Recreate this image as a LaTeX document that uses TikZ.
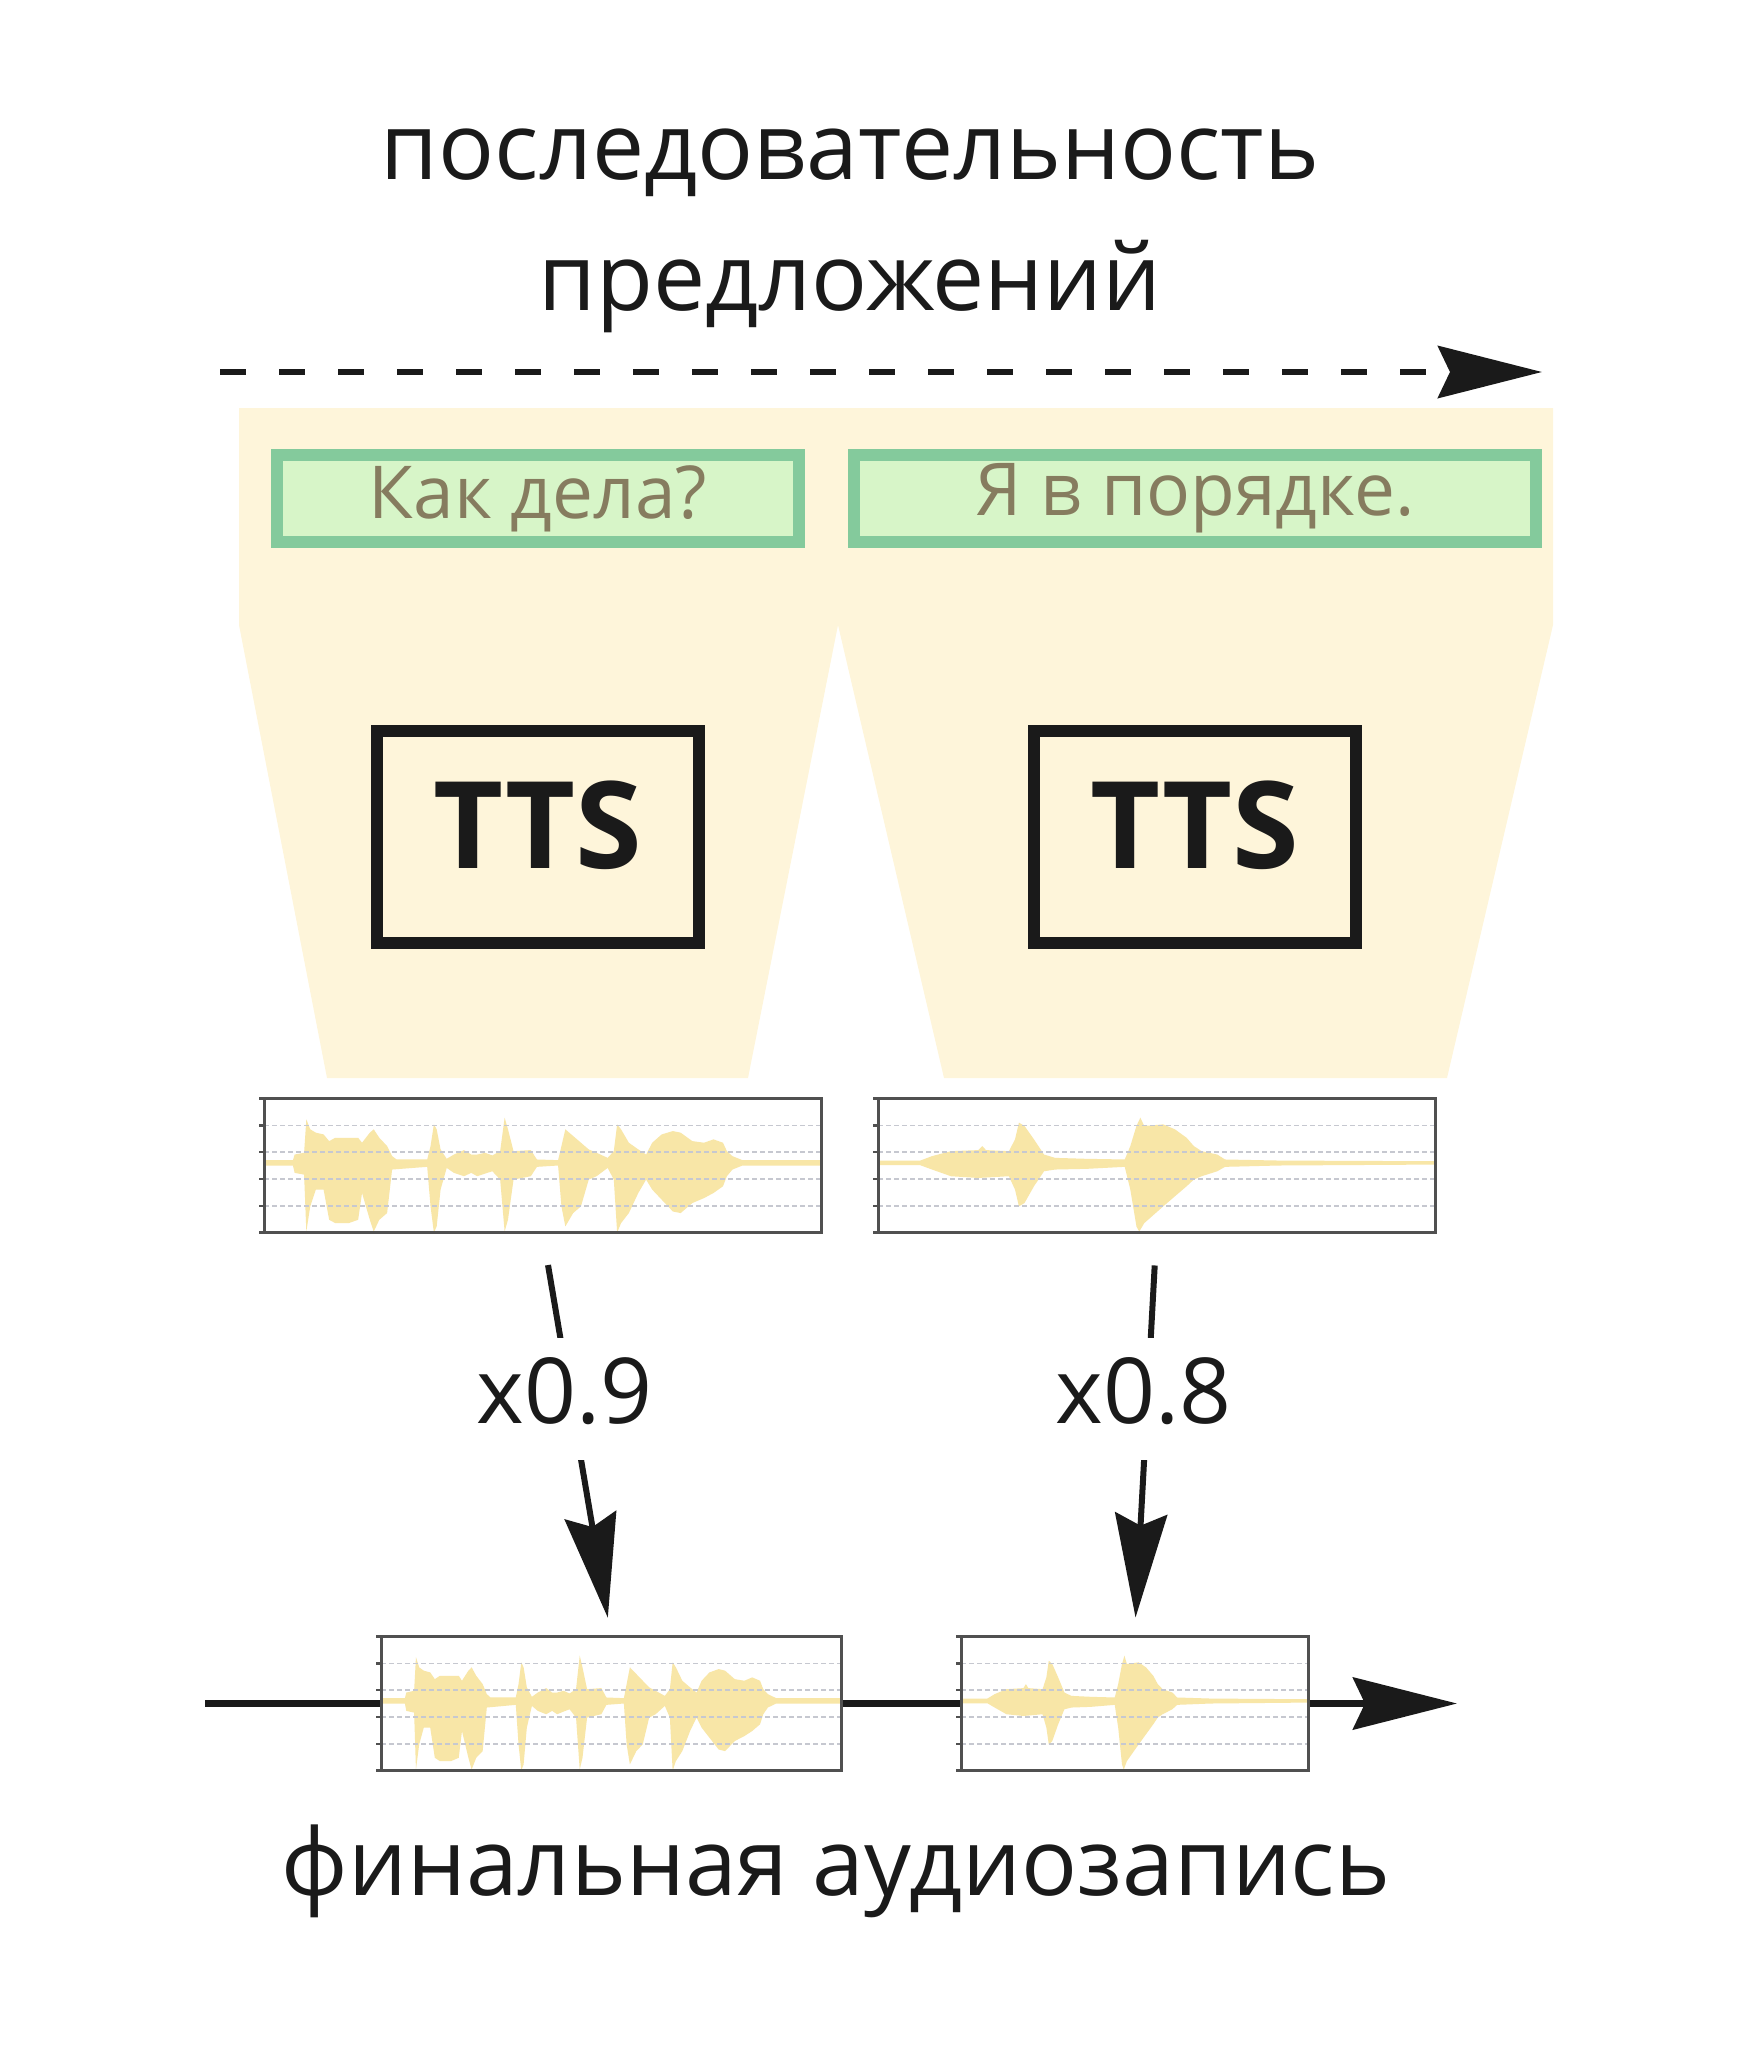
\documentclass[tikz,border=0pt]{standalone}
\usepackage{fontspec}
\setmainfont{Open Sans}
\usepackage{tikz}
\usetikzlibrary{arrows.meta,positioning}
\definecolor{ttscream}{HTML}{FEF5DA}
\definecolor{ttswave}{HTML}{F8E6A7}
\definecolor{sentfill}{HTML}{D7F5C8}
\definecolor{sentline}{HTML}{84CA9C}
\definecolor{senttext}{HTML}{867C5F}
\definecolor{gridgray}{HTML}{C6C8D0}
\definecolor{framegray}{HTML}{505050}
\definecolor{inkblack}{HTML}{1A1A1A}

\tikzset{
  sentence/.style={draw=sentline, fill=sentfill, line width=6pt, minimum height=43.5pt,
    inner sep=0pt, text=senttext, font=\fontsize{36.5}{40}\selectfont},
  ttsbox/.style={draw=inkblack, line width=6pt, minimum width=161pt, minimum height=106pt,
    inner sep=0pt, text depth=12pt, text=inkblack, font=\bfseries\fontsize{60.5}{70}\selectfont},
  wavebox/.style={fill=white, inner sep=0pt, outer sep=0pt, minimum height=67pt},
  bigtext/.style={text=inkblack, align=center, font=\fontsize{46.5}{65.5}\selectfont},
  scalelabel/.style={fill=white, inner sep=0pt, text height=42.5pt, text depth=18.5pt,
    text=inkblack, font=\fontsize{45.5}{50}\selectfont},
  bigarrow/.style={-{Stealth[length=52pt, width=26pt, inset=6pt]}},
  seqline/.style={bigarrow, inkblack, line width=3.4pt, dash pattern=on 13pt off 16.5pt},
  timeline/.style={inkblack, line width=3.5pt},
  speedline/.style={bigarrow, inkblack, line width=3pt, shorten <=16.5pt, shorten >=9.5pt},
}

% envelopes in a 100x100 box, y downwards
\newcommand\wavekak{(0,46) -- (5.2,46) -- (5.5,41.8) -- (7.2,40.5) -- (7.6,15.5) -- (8.3,23)
  -- (9.3,25.5) -- (10.7,26.8) -- (11.7,31.8) -- (12.8,29.3) -- (16.9,29.3) -- (17.6,33)
  -- (19,25.5) -- (19.7,23) -- (20.7,29.3) -- (22.1,35.5) -- (23,43) -- (23.8,45.5)
  -- (29.3,45.5) -- (29.9,35.5) -- (30.5,19.3) -- (31,23) -- (31.7,38) -- (32.8,45)
  -- (34.1,41.8) -- (35.9,38.5) -- (37.2,41.8) -- (38.3,41.8) -- (39.7,40.5) -- (41,42.5)
  -- (42.4,39.3) -- (43.2,14.3) -- (43.8,23) -- (44.8,39.3) -- (47.9,38.5) -- (49,45.5)
  -- (52.8,46) -- (53.4,35.5) -- (54.1,23) -- (55.5,28) -- (56.9,33) -- (58.3,38)
  -- (59.7,40.5) -- (61.7,44.3) -- (62.8,39.3) -- (63.4,19.3) -- (64.1,23) -- (65.5,33)
  -- (67.2,38) -- (68.6,41.8) -- (69.7,33) -- (71.4,26.8) -- (73.4,24.3) -- (74.8,25.5)
  -- (76.9,31.8) -- (79,33) -- (80.7,30.5) -- (82.4,33) -- (83.1,39.3) -- (84.1,43)
  -- (85.9,46) -- (100,46)
  -- (100,50) -- (85.9,50) -- (84.1,53) -- (83.1,58) -- (82.4,65.5) -- (80.7,70.5)
  -- (79,74.3) -- (76.9,78) -- (74.8,85.5) -- (73.4,84.3) -- (71.4,75.5) -- (69.7,68)
  -- (68.6,60.5) -- (67.2,70.5) -- (65.5,85.5) -- (64.1,93) -- (63.4,100) -- (62.8,60.5)
  -- (61.7,51.8) -- (59.7,58) -- (58.3,60.5) -- (56.9,80.5) -- (55.5,85.5) -- (54.1,95.5)
  -- (53.4,80.5) -- (52.8,50) -- (49,51) -- (47.9,58) -- (44.8,60.5) -- (43.8,90.5)
  -- (43.2,99.3) -- (42.4,60.5) -- (41,54.3) -- (39.7,56) -- (38.3,58) -- (37.2,55.5)
  -- (35.9,58) -- (34.1,55.5) -- (32.8,51.8) -- (31.7,68) -- (31,95.5) -- (30.5,100)
  -- (29.9,80.5) -- (29.3,51) -- (23,53) -- (22.1,85.5) -- (20.7,90.5) -- (19.7,99.3)
  -- (19,90.5) -- (17.6,70.5) -- (16.9,90.5) -- (15.2,93) -- (12.8,93) -- (11.7,90.5)
  -- (10.7,68) -- (9.3,68) -- (8.3,80.5) -- (7.6,99.3) -- (7.2,56.8) -- (5.5,55.5)
  -- (5.2,50) -- (0,50) -- cycle}
\newcommand\waveporyadok{(0,46.3) -- (7.6,46.3) -- (9.7,43) -- (13.1,39.3) -- (18,38.5)
  -- (18.7,35.5) -- (19.4,38.5) -- (23.5,39.3) -- (24.6,30.5) -- (25.3,18) -- (26.3,20.5)
  -- (28,30.5) -- (29.8,41.8) -- (31.8,44.3) -- (37.4,45) -- (44.3,45.5) -- (45.3,35.5)
  -- (46.4,20.5) -- (47.1,14.3) -- (47.8,20.5) -- (51.2,19.3) -- (53.3,23) -- (55.4,29.3)
  -- (56.7,35.5) -- (58.1,39.3) -- (60.9,41.8) -- (62.3,45.5) -- (72,46.3) -- (100,46.8)
  -- (100,49.3) -- (72,50) -- (62.3,51) -- (60.9,54.3) -- (58.1,58) -- (56.7,60.5)
  -- (55.4,65.5) -- (53.3,73) -- (51.2,80.5) -- (47.8,93) -- (46.9,99.3) -- (46.4,95.5)
  -- (45.3,68) -- (44.3,51) -- (37.4,52.5) -- (31.8,53) -- (29.8,54.3) -- (28,65.5)
  -- (26.3,78) -- (25.3,80.5) -- (24.6,68) -- (23.5,58) -- (18,59.3) -- (13.1,58)
  -- (9.7,53) -- (7.6,49.8) -- (0,49.8) -- cycle}

% #1 box node, #2 x unit, #3 envelope
\newcommand\drawwave[3]{%
  \begin{scope}[shift={(#1.north west)}, x=#2, y=-0.67pt]
    \fill[ttswave] #3;
    \foreach \gy in {20,40,60,80}
      \draw[gridgray, line width=0.8pt, dash pattern=on 2.5pt off 1.5pt] (0,\gy) -- (100,\gy);
    \foreach \gy in {0,20,...,100}
      \draw[framegray, line width=1.2pt] (0,\gy) -- ++(-2.5pt,0pt);
    \draw[framegray, line width=1.5pt] (0,0) rectangle (100,100);
  \end{scope}}

\begin{document}
\begin{tikzpicture}[x=0.5pt, y=-0.5pt]
  \useasboundingbox (0,0) rectangle (1750,2050);

  % title and sentence order
  \node[bigtext, anchor=base] (title) at (850,310) {последовательность\\предложений};
  \coordinate (seqA) at (220,372);
  \coordinate (seqB) at (1542,372);
  \draw[seqline] (seqA) -- (seqB);

  % cream funnel behind both runs
  \fill[ttscream] (239,408) -- (1553,408) -- (1553,625) -- (1447,1078) -- (944,1078)
    -- (838,625) -- (748,1078) -- (327,1078) -- (239,625) -- cycle;

  \node[sentence, minimum width=261pt] (kA) at (538,498.5) {Как дела?};
  \node[sentence, minimum width=341pt] (kB) at (1195,498.5) {Я в порядке.};
  \node[ttsbox, below=88.5pt of kA] (tA) {TTS};
  \node[ttsbox, below=88.5pt of kB] (tB) {TTS};

  % generated audio
  \node[wavebox, minimum width=278.5pt] (wA) at (542.5,1165.5) {};
  \node[wavebox, minimum width=278.5pt] (wB) at (1156.5,1165.5) {};
  \drawwave{wA}{2.785pt}{\wavekak}
  \drawwave{wB}{2.785pt}{\waveporyadok}

  % sped-up audio on the output track
  \node[wavebox, minimum width=230pt] (wC) at (611,1703.5) {};
  \node[wavebox, minimum width=173.5pt] (wD) at (1134.5,1703.5) {};
  \coordinate (trackA) at (205,1703.5);
  \coordinate (trackB) at (1457,1703.5);
  \draw[timeline] (trackA) -- (wC.west);
  \draw[timeline] (wC.east) -- (wD.west);
  \draw[timeline, bigarrow] (wD.east) -- (trackB);
  \drawwave{wC}{2.3pt}{\wavekak}
  \drawwave{wD}{1.735pt}{\waveporyadok}

  \draw[speedline] (wA.south) -- node[scalelabel, pos=0.413, xshift=-3pt] (sA) {x0.9} (wC.north);
  \draw[speedline] (wB.south) -- node[scalelabel, pos=0.413, xshift=-2pt] (sB) {x0.8} (wD.north);

  \node[bigtext, anchor=base] (result) at (836,1895) {финальная аудиозапись};
\end{tikzpicture}
\end{document}
